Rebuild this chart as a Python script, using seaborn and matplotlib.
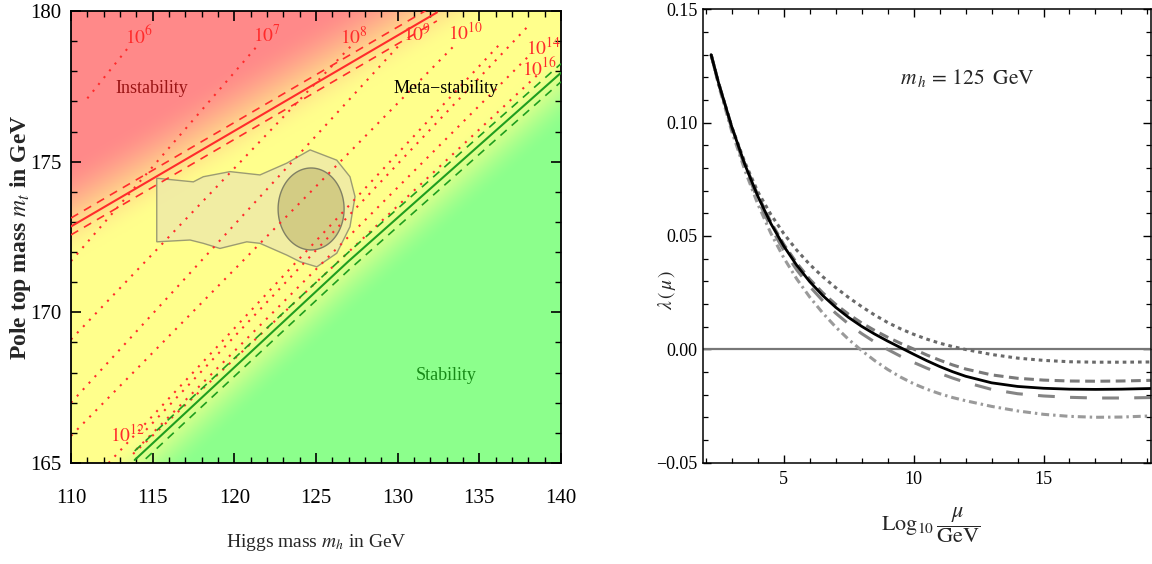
import numpy as np
import matplotlib
matplotlib.use("Agg")
import matplotlib.pyplot as plt
import seaborn as sns
import pandas as pd

sns.set_theme(style="ticks")
plt.rcParams['font.family'] = ['Liberation Serif', 'DejaVu Serif']
plt.rcParams['mathtext.fontset'] = 'stix'

# ---------------- left panel: (m_h, m_t) phase diagram ----------------
# instability boundary (central, and its band)
instab_mh = [110.0, 132.4]
instab_mt = [172.85, 179.95]
instab_hi_mt = [173.13, 180.23]
instab_lo_mt = [172.57, 179.67]

# absolute-stability boundary (central, and its band)
stab_mh = [113.9, 127.0, 140.0]
stab_mt = [165.10, 171.70, 177.95]
stab_hi_mt = [165.40, 172.00, 178.25]
stab_lo_mt = [164.80, 171.40, 177.65]

# contours of the instability scale Lambda (GeV)
lam_lines = {
    "6":  ([111.0, 113.6], [177.10, 178.85]),
    "7":  ([110.0, 121.45], [171.70, 178.87]),
    "8":  ([110.0, 127.2], [169.10, 178.87]),
    "9":  ([110.0, 130.1], [167.00, 178.87]),
    "10": ([110.0, 133.5], [165.90, 178.87]),
    "11": ([112.3, 136.2], [165.00, 178.87]),
    "12": ([114.6, 137.9], [166.10, 179.45]),
    "14": ([114.0, 138.2], [165.45, 178.60]),
    "16": ([113.8, 138.6], [165.30, 177.90]),
}
lam_label_pos = {
    "6": (114.16, 179.17), "7": (122.0, 179.2), "8": (127.33, 179.14),
    "9": (131.19, 179.24), "10": (134.13, 179.27), "14": (138.95, 178.77),
    "16": (138.66, 178.11), "12": (113.49, 165.93),
}

# experimentally favoured region
region_mh = [115.25, 117.49, 118.10, 119.74, 121.57, 123.21, 124.64, 126.27,
             127.08, 127.39, 127.08, 126.27, 125.05, 124.02, 123.21, 121.57,
             120.76, 119.12, 118.10, 117.29, 115.25]
region_mt = [174.45, 174.33, 174.50, 174.67, 174.56, 174.95, 175.39, 175.05,
             174.50, 173.84, 172.84, 171.96, 171.51, 171.68, 171.90, 172.29,
             172.34, 172.12, 172.29, 172.40, 172.34]
core_center = (124.7, 173.43)
core_radii = (2.02, 1.36)

# ---------------- right panel: running quartic coupling ----------------
log_mu = [2.2, 2.5, 3.0, 3.5, 4.0, 4.5, 5.0, 5.5, 6.0, 6.5, 7.0, 7.5, 8.0,
          8.5, 9.0, 9.5, 10.0, 10.5, 11.0, 11.5, 12.0, 13.0, 14.0, 15.0,
          16.0, 17.0, 18.0, 19.15]
lam_central = [0.130, 0.117, 0.098, 0.0815, 0.0675, 0.0555, 0.0455, 0.0370,
               0.0298, 0.0237, 0.0185, 0.0140, 0.0101, 0.0067, 0.0036, 0.0007,
               -0.0022, -0.0050, -0.0076, -0.0099, -0.0119, -0.0148, -0.0164,
               -0.0172, -0.0176, -0.0177, -0.0176, -0.0173]
lam_dotted = [0.130, 0.117, 0.098, 0.0825, 0.0695, 0.0595, 0.0510, 0.0437,
              0.0374, 0.0320, 0.0272, 0.0228, 0.0188, 0.0151, 0.0118, 0.0090,
              0.0066, 0.0045, 0.0027, 0.0012, -0.0001, -0.0023, -0.0039,
              -0.0049, -0.0055, -0.0057, -0.0057, -0.0056]
lam_short = [0.130, 0.117, 0.098, 0.0817, 0.0680, 0.0562, 0.0463, 0.0380,
             0.0309, 0.0249, 0.0198, 0.0154, 0.0116, 0.0083, 0.0053, 0.0026,
             0.0001, -0.0025, -0.0048, -0.0069, -0.0087, -0.0113, -0.0128,
             -0.0136, -0.0140, -0.0141, -0.0140, -0.0137]
lam_long = [0.130, 0.117, 0.097, 0.0805, 0.0660, 0.0538, 0.0436, 0.0350,
            0.0277, 0.0214, 0.0159, 0.0111, 0.0069, 0.0032, -0.0001, -0.0031,
            -0.0058, -0.0083, -0.0106, -0.0127, -0.0146, -0.0177, -0.0196,
            -0.0206, -0.0212, -0.0215, -0.0215, -0.0213]
lam_dashdot = [0.130, 0.116, 0.096, 0.0790, 0.0640, 0.0512, 0.0403, 0.0310,
               0.0230, 0.0160, 0.0098, 0.0043, -0.0006, -0.0050, -0.0089,
               -0.0123, -0.0152, -0.0176, -0.0196, -0.0213, -0.0227, -0.0252,
               -0.0272, -0.0287, -0.0296, -0.0300, -0.0299, -0.0294]


def line_at(x, xs, ys):
    """Piecewise-linear boundary with linear extension past its ends."""
    xs = np.asarray(xs, float)
    ys = np.asarray(ys, float)
    out = np.interp(x, xs, ys)
    lo = x < xs[0]
    hi = x > xs[-1]
    out = np.where(lo, ys[0] + (x - xs[0]) * (ys[1] - ys[0]) / (xs[1] - xs[0]), out)
    out = np.where(hi, ys[-1] + (x - xs[-1]) * (ys[-1] - ys[-2]) / (xs[-1] - xs[-2]), out)
    return out


def smooth(t):
    t = np.clip(t, 0, 1)
    return t * t * (3 - 2 * t)


fig = plt.figure(figsize=(11.52, 5.64), dpi=100)
ax1 = fig.add_axes([71 / 1152, 1 - 463 / 564, 490 / 1152, 452 / 564])
ax2 = fig.add_axes([703.3 / 1152, 1 - 462.6 / 564, 448 / 1152, 453.3 / 564])

# shaded phases: instability (red), meta-stability (yellow), stability (green)
MH, MT = np.meshgrid(np.linspace(110, 140, 400), np.linspace(165, 180, 300))
red = np.array([1.0, 0.54, 0.54])
yellow = np.array([1.0, 1.0, 0.55])
green = np.array([0.55, 1.0, 0.55])
w_red = smooth((MT - line_at(MH, instab_mh, instab_mt) + 1.2) / 3.4)[..., None]
w_green = smooth((line_at(MH, stab_mh, stab_mt) - MT + 0.9) / 2.8)[..., None]
rgb = yellow * (1 - w_red) + red * w_red
rgb = rgb * (1 - w_green) + green * w_green
ax1.imshow(rgb, extent=(110, 140, 165, 180), origin="lower", aspect="auto",
           zorder=0, interpolation="bilinear")

# favoured region
ax1.fill(region_mh, region_mt, facecolor="#efeaa8", edgecolor="#8c8c6c",
         lw=1.0, alpha=0.85, zorder=1)
t = np.linspace(0, 2 * np.pi, 120)
ax1.fill(core_center[0] + core_radii[0] * np.cos(t),
         core_center[1] + core_radii[1] * np.sin(t),
         facecolor="#d3cc84", edgecolor="#808064", lw=1.0, zorder=1.5)

RED = "#ff2b2b"
GREEN = "#1f9e1f"
for mh, mt in lam_lines.values():
    sns.lineplot(x=mh, y=mt, ax=ax1, color=RED, lw=1.5,
                 linestyle=(0, (1.0, 3.2)), sort=False, estimator=None, zorder=2)

sns.lineplot(x=instab_mh, y=instab_mt, ax=ax1, color=RED, lw=1.5,
             sort=False, estimator=None, zorder=3)
for mt in (instab_hi_mt, instab_lo_mt):
    sns.lineplot(x=instab_mh, y=mt, ax=ax1, color=RED, lw=1.2,
                 linestyle=(0, (5, 4)), sort=False, estimator=None, zorder=3)

sns.lineplot(x=stab_mh, y=stab_mt, ax=ax1, color=GREEN, lw=1.5,
             sort=False, estimator=None, zorder=3)
for mt in (stab_hi_mt, stab_lo_mt):
    sns.lineplot(x=stab_mh, y=mt, ax=ax1, color=GREEN, lw=1.2,
                 linestyle=(0, (5, 4)), sort=False, estimator=None, zorder=3)

for key, (x, y) in lam_label_pos.items():
    ax1.text(x, y, rf"$10^{{{key}}}$", color=RED, fontsize=14,
             ha="center", va="center", zorder=4)

ax1.text(114.96, 177.44, "Instability", color="#9a1515", fontsize=13,
         ha="center", va="center", zorder=4)
ax1.text(132.96, 177.44, "Meta\u2212stability", color="black", fontsize=13,
         ha="center", va="center", zorder=4)
ax1.text(132.96, 167.92, "Stability", color="#178a17", fontsize=13,
         ha="center", va="center", zorder=4)

ax1.set_xlim(110, 140)
ax1.set_ylim(165, 180)
ax1.set_xticks(np.arange(110, 141, 5))
ax1.set_yticks(np.arange(165, 181, 5))
ax1.set_xticks(np.arange(110, 141, 1), minor=True)
ax1.set_yticks(np.arange(165, 181, 1), minor=True)
ax1.tick_params(which="both", direction="in", top=True, right=True,
                colors="black", labelsize=15)
ax1.tick_params(which="major", length=7, width=1.2)
ax1.tick_params(which="minor", length=4, width=1.0)
ax1.tick_params(axis="x", pad=19)
ax1.tick_params(axis="y", pad=7)
ax1.set_xlabel("Higgs mass $m_h$ in GeV", fontsize=14)
ax1.set_ylabel("Pole top mass $m_t$ in GeV", fontsize=17, fontweight="bold")
ax1.yaxis.set_label_coords(-0.078, 0.5)
ax1.xaxis.set_label_coords(0.5, -0.152)
for s in ax1.spines.values():
    s.set_color("black")
    s.set_linewidth(1.3)

# ---------------- right panel ----------------
ax2.axhline(0.0, color="#777777", lw=1.6, zorder=1)
curves = pd.DataFrame({
    "log_mu": log_mu, "central": lam_central, "dotted": lam_dotted,
    "short": lam_short, "long": lam_long, "dashdot": lam_dashdot,
})
styles = {
    "dashdot": ("#9a9a9a", 2.2, (0, (2.6, 1.3, 0.8, 1.3))),
    "long": ("#858585", 2.2, (0, (5.5, 5.0))),
    "short": ("#7a7a7a", 2.2, (0, (3.2, 1.8))),
    "dotted": ("#6a6a6a", 2.2, (0, (1.2, 1.3))),
}
for name, (col, lw, ls) in styles.items():
    sns.lineplot(data=curves, x="log_mu", y=name, ax=ax2, color=col, lw=lw,
                 linestyle=ls, sort=False, estimator=None, zorder=2)
sns.lineplot(data=curves, x="log_mu", y="central", ax=ax2, color="black",
             lw=2.0, sort=False, estimator=None, zorder=3)

ax2.text(0.589, 0.848, r"$m_{\,h}\, = \,125\;\;\mathrm{GeV}$", transform=ax2.transAxes,
         fontsize=15.5, ha="center", va="center")

ax2.set_xlim(1.9, 19.15)
ax2.set_ylim(-0.05, 0.15)
ax2.set_xticks([5, 10, 15])
ax2.set_xticks(np.arange(2, 20, 1), minor=True)
ax2.set_yticks([-0.05, 0.0, 0.05, 0.10, 0.15])
ax2.set_yticklabels(["\u22120.05", "0.00", "0.05", "0.10", "0.15"])
ax2.set_yticks(np.arange(-0.05, 0.151, 0.01), minor=True)
ax2.tick_params(which="both", direction="in", top=True, right=True,
                colors="black", labelsize=13)
ax2.tick_params(which="major", length=6, width=1.0)
ax2.tick_params(which="minor", length=3.5, width=0.9)
ax2.tick_params(axis="x", pad=6)
ax2.tick_params(axis="y", pad=4)
ax2.set_xlabel(r"$\mathrm{Log}_{10}\,\dfrac{\mu}{\mathrm{GeV}}$", fontsize=16)
ax2.set_ylabel(r"$\lambda\,(\,\mu\,)$", fontsize=14)
ax2.xaxis.set_label_coords(0.507, -0.094)
ax2.yaxis.set_label_coords(-0.056, 0.381)
for s in ax2.spines.values():
    s.set_color("black")
    s.set_linewidth(1.1)

fig.savefig("out.png", dpi=100)
